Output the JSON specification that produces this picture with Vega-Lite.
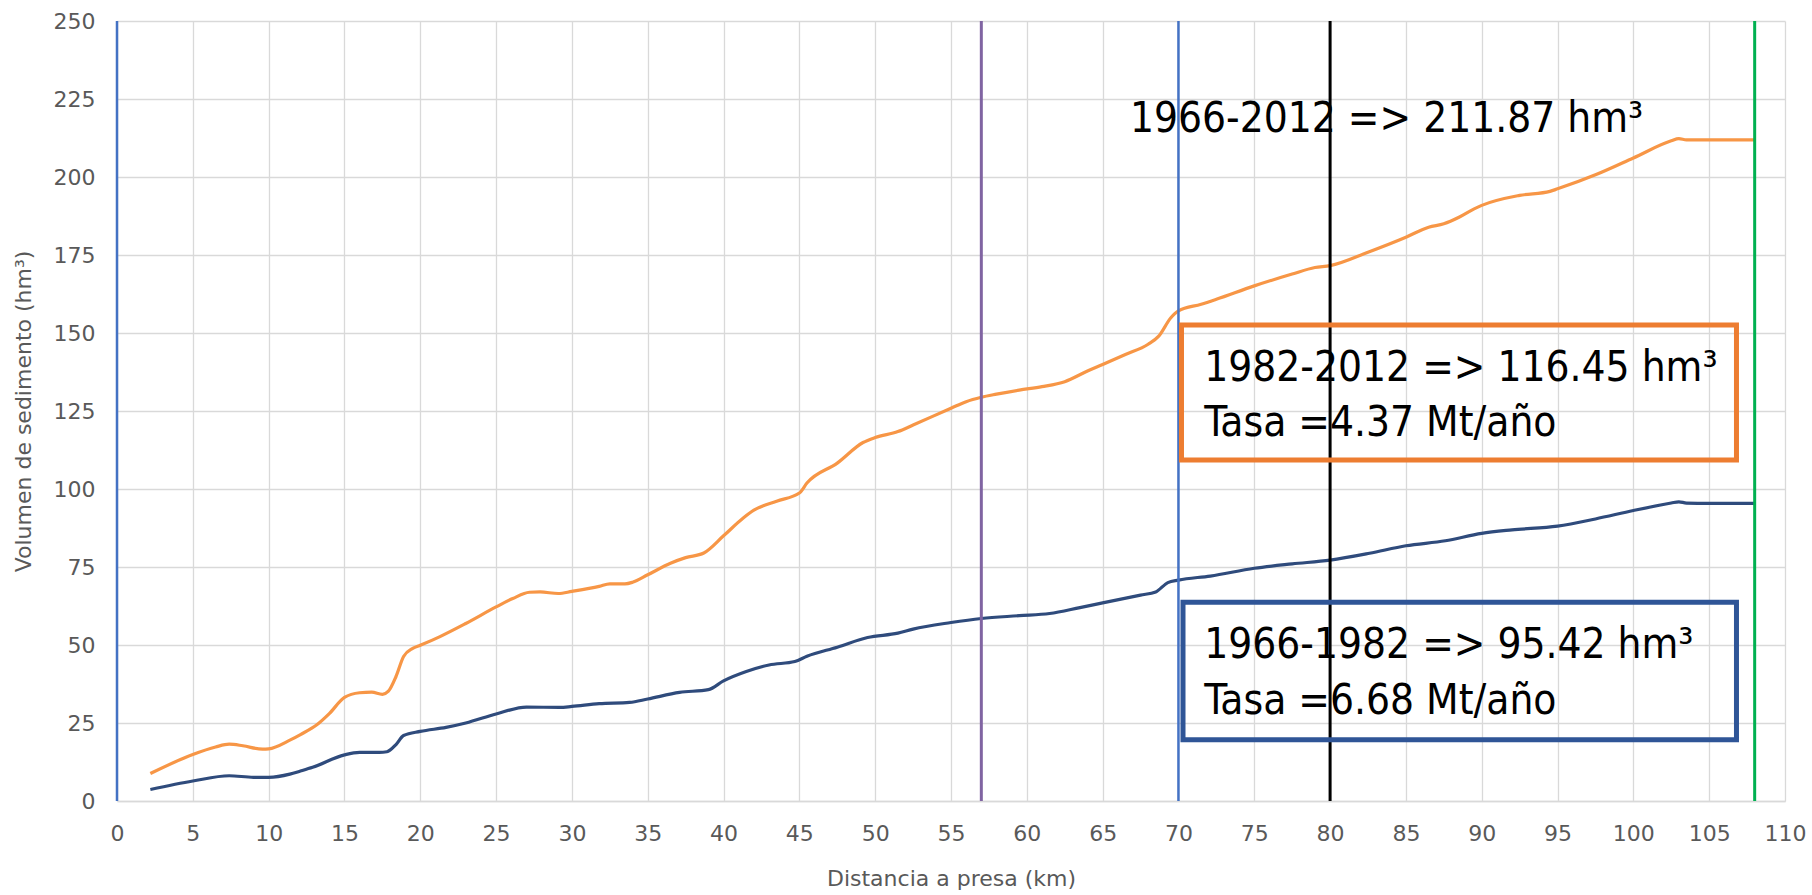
{
  "$schema": "https://vega.github.io/schema/vega-lite/v6.json",
  "width": 1668,
  "height": 780,
  "autosize": {"type": "none"},
  "padding": {"left": 117, "top": 21, "right": 27, "bottom": 94},
  "background": "white",
  "config": {
    "view": {"stroke": null},
    "axis": {
      "labelFont": "DejaVu Sans",
      "titleFont": "DejaVu Sans",
      "labelColor": "#595959",
      "titleColor": "#595959",
      "labelFontSize": 22,
      "titleFontSize": 22,
      "titleFontWeight": "normal",
      "gridColor": "#d9d9d9",
      "gridWidth": 1.3,
      "ticks": false
    }
  },
  "datasets": {
    "series": [
      {"km": 2.2, "vol": 8.8, "periodo": "1966-2012"},
      {"km": 5, "vol": 14.9, "periodo": "1966-2012"},
      {"km": 6.5, "vol": 17.3, "periodo": "1966-2012"},
      {"km": 7.4, "vol": 18.2, "periodo": "1966-2012"},
      {"km": 8.3, "vol": 17.7, "periodo": "1966-2012"},
      {"km": 9.6, "vol": 16.6, "periodo": "1966-2012"},
      {"km": 10, "vol": 16.7, "periodo": "1966-2012"},
      {"km": 11.4, "vol": 19.5, "periodo": "1966-2012"},
      {"km": 12.1, "vol": 21.3, "periodo": "1966-2012"},
      {"km": 13.2, "vol": 24.5, "periodo": "1966-2012"},
      {"km": 14, "vol": 28, "periodo": "1966-2012"},
      {"km": 15, "vol": 33.2, "periodo": "1966-2012"},
      {"km": 16, "vol": 34.7, "periodo": "1966-2012"},
      {"km": 16.8, "vol": 34.9, "periodo": "1966-2012"},
      {"km": 17.5, "vol": 34.2, "periodo": "1966-2012"},
      {"km": 17.9, "vol": 35.2, "periodo": "1966-2012"},
      {"km": 18.4, "vol": 39.9, "periodo": "1966-2012"},
      {"km": 18.9, "vol": 46.3, "periodo": "1966-2012"},
      {"km": 19.5, "vol": 48.9, "periodo": "1966-2012"},
      {"km": 20, "vol": 49.9, "periodo": "1966-2012"},
      {"km": 21.3, "vol": 52.7, "periodo": "1966-2012"},
      {"km": 23, "vol": 56.9, "periodo": "1966-2012"},
      {"km": 25, "vol": 62.2, "periodo": "1966-2012"},
      {"km": 26.1, "vol": 64.9, "periodo": "1966-2012"},
      {"km": 27.2, "vol": 66.9, "periodo": "1966-2012"},
      {"km": 27.9, "vol": 67, "periodo": "1966-2012"},
      {"km": 29.1, "vol": 66.5, "periodo": "1966-2012"},
      {"km": 30, "vol": 67.2, "periodo": "1966-2012"},
      {"km": 31.8, "vol": 68.8, "periodo": "1966-2012"},
      {"km": 32.5, "vol": 69.6, "periodo": "1966-2012"},
      {"km": 33.5, "vol": 69.6, "periodo": "1966-2012"},
      {"km": 34, "vol": 70.1, "periodo": "1966-2012"},
      {"km": 35, "vol": 72.5, "periodo": "1966-2012"},
      {"km": 36.5, "vol": 76.2, "periodo": "1966-2012"},
      {"km": 37.5, "vol": 78, "periodo": "1966-2012"},
      {"km": 38.7, "vol": 79.5, "periodo": "1966-2012"},
      {"km": 40, "vol": 85, "periodo": "1966-2012"},
      {"km": 41.3, "vol": 90.7, "periodo": "1966-2012"},
      {"km": 42, "vol": 93.2, "periodo": "1966-2012"},
      {"km": 43.5, "vol": 96.1, "periodo": "1966-2012"},
      {"km": 45, "vol": 98.7, "periodo": "1966-2012"},
      {"km": 45.5, "vol": 101.9, "periodo": "1966-2012"},
      {"km": 47.5, "vol": 108.3, "periodo": "1966-2012"},
      {"km": 49.2, "vol": 114.9, "periodo": "1966-2012"},
      {"km": 50, "vol": 116.5, "periodo": "1966-2012"},
      {"km": 51.5, "vol": 118.4, "periodo": "1966-2012"},
      {"km": 52.5, "vol": 120.5, "periodo": "1966-2012"},
      {"km": 55, "vol": 125.9, "periodo": "1966-2012"},
      {"km": 56, "vol": 128, "periodo": "1966-2012"},
      {"km": 57, "vol": 129.4, "periodo": "1966-2012"},
      {"km": 58, "vol": 130.4, "periodo": "1966-2012"},
      {"km": 59.5, "vol": 131.7, "periodo": "1966-2012"},
      {"km": 61, "vol": 132.8, "periodo": "1966-2012"},
      {"km": 62.5, "vol": 134.4, "periodo": "1966-2012"},
      {"km": 64, "vol": 137.8, "periodo": "1966-2012"},
      {"km": 65, "vol": 139.9, "periodo": "1966-2012"},
      {"km": 66.5, "vol": 143.1, "periodo": "1966-2012"},
      {"km": 68, "vol": 146.4, "periodo": "1966-2012"},
      {"km": 68.7, "vol": 149, "periodo": "1966-2012"},
      {"km": 69.5, "vol": 154.9, "periodo": "1966-2012"},
      {"km": 70, "vol": 157.1, "periodo": "1966-2012"},
      {"km": 71.5, "vol": 159.2, "periodo": "1966-2012"},
      {"km": 72.5, "vol": 160.8, "periodo": "1966-2012"},
      {"km": 75, "vol": 165.1, "periodo": "1966-2012"},
      {"km": 77.5, "vol": 168.9, "periodo": "1966-2012"},
      {"km": 79, "vol": 171, "periodo": "1966-2012"},
      {"km": 80, "vol": 171.6, "periodo": "1966-2012"},
      {"km": 82.5, "vol": 175.9, "periodo": "1966-2012"},
      {"km": 85, "vol": 180.7, "periodo": "1966-2012"},
      {"km": 86.5, "vol": 183.9, "periodo": "1966-2012"},
      {"km": 87.5, "vol": 185, "periodo": "1966-2012"},
      {"km": 88.5, "vol": 187.1, "periodo": "1966-2012"},
      {"km": 89.5, "vol": 189.8, "periodo": "1966-2012"},
      {"km": 90, "vol": 190.9, "periodo": "1966-2012"},
      {"km": 92.5, "vol": 194.1, "periodo": "1966-2012"},
      {"km": 94.5, "vol": 195.4, "periodo": "1966-2012"},
      {"km": 95, "vol": 196.2, "periodo": "1966-2012"},
      {"km": 97.5, "vol": 200.7, "periodo": "1966-2012"},
      {"km": 100, "vol": 206.1, "periodo": "1966-2012"},
      {"km": 102.5, "vol": 211.6, "periodo": "1966-2012"},
      {"km": 103, "vol": 212.3, "periodo": "1966-2012"},
      {"km": 103.5, "vol": 211.9, "periodo": "1966-2012"},
      {"km": 105, "vol": 211.87, "periodo": "1966-2012"},
      {"km": 108, "vol": 211.87, "periodo": "1966-2012"},
      {"km": 2.2, "vol": 3.7, "periodo": "1966-1982"},
      {"km": 5, "vol": 6.4, "periodo": "1966-1982"},
      {"km": 7.4, "vol": 8.1, "periodo": "1966-1982"},
      {"km": 9, "vol": 7.6, "periodo": "1966-1982"},
      {"km": 10, "vol": 7.6, "periodo": "1966-1982"},
      {"km": 11.4, "vol": 8.6, "periodo": "1966-1982"},
      {"km": 12.1, "vol": 9.6, "periodo": "1966-1982"},
      {"km": 12.9, "vol": 10.8, "periodo": "1966-1982"},
      {"km": 15, "vol": 14.8, "periodo": "1966-1982"},
      {"km": 16, "vol": 15.6, "periodo": "1966-1982"},
      {"km": 17.3, "vol": 15.6, "periodo": "1966-1982"},
      {"km": 17.8, "vol": 15.8, "periodo": "1966-1982"},
      {"km": 18.4, "vol": 18.1, "periodo": "1966-1982"},
      {"km": 18.9, "vol": 21, "periodo": "1966-1982"},
      {"km": 20, "vol": 22.3, "periodo": "1966-1982"},
      {"km": 21.7, "vol": 23.6, "periodo": "1966-1982"},
      {"km": 23, "vol": 25, "periodo": "1966-1982"},
      {"km": 25, "vol": 27.9, "periodo": "1966-1982"},
      {"km": 27, "vol": 30.1, "periodo": "1966-1982"},
      {"km": 29.2, "vol": 30, "periodo": "1966-1982"},
      {"km": 30, "vol": 30.3, "periodo": "1966-1982"},
      {"km": 31.8, "vol": 31.2, "periodo": "1966-1982"},
      {"km": 33.8, "vol": 31.6, "periodo": "1966-1982"},
      {"km": 35, "vol": 32.7, "periodo": "1966-1982"},
      {"km": 37.1, "vol": 34.8, "periodo": "1966-1982"},
      {"km": 39, "vol": 35.7, "periodo": "1966-1982"},
      {"km": 40, "vol": 38.5, "periodo": "1966-1982"},
      {"km": 41.5, "vol": 41.5, "periodo": "1966-1982"},
      {"km": 43, "vol": 43.6, "periodo": "1966-1982"},
      {"km": 44.7, "vol": 44.7, "periodo": "1966-1982"},
      {"km": 45.5, "vol": 46.4, "periodo": "1966-1982"},
      {"km": 47.5, "vol": 49.3, "periodo": "1966-1982"},
      {"km": 49.5, "vol": 52.4, "periodo": "1966-1982"},
      {"km": 51.5, "vol": 53.8, "periodo": "1966-1982"},
      {"km": 52.5, "vol": 55.1, "periodo": "1966-1982"},
      {"km": 55, "vol": 57.2, "periodo": "1966-1982"},
      {"km": 57, "vol": 58.5, "periodo": "1966-1982"},
      {"km": 59.5, "vol": 59.4, "periodo": "1966-1982"},
      {"km": 61.5, "vol": 60.1, "periodo": "1966-1982"},
      {"km": 63.5, "vol": 62, "periodo": "1966-1982"},
      {"km": 65, "vol": 63.5, "periodo": "1966-1982"},
      {"km": 67.5, "vol": 66, "periodo": "1966-1982"},
      {"km": 68.5, "vol": 67, "periodo": "1966-1982"},
      {"km": 69.3, "vol": 70, "periodo": "1966-1982"},
      {"km": 70, "vol": 70.8, "periodo": "1966-1982"},
      {"km": 72.1, "vol": 72.1, "periodo": "1966-1982"},
      {"km": 75, "vol": 74.6, "periodo": "1966-1982"},
      {"km": 77.5, "vol": 76, "periodo": "1966-1982"},
      {"km": 80, "vol": 77.2, "periodo": "1966-1982"},
      {"km": 82.6, "vol": 79.4, "periodo": "1966-1982"},
      {"km": 85, "vol": 81.8, "periodo": "1966-1982"},
      {"km": 87.6, "vol": 83.4, "periodo": "1966-1982"},
      {"km": 90, "vol": 85.8, "periodo": "1966-1982"},
      {"km": 92, "vol": 86.9, "periodo": "1966-1982"},
      {"km": 95, "vol": 88.1, "periodo": "1966-1982"},
      {"km": 97.5, "vol": 90.4, "periodo": "1966-1982"},
      {"km": 100, "vol": 93.1, "periodo": "1966-1982"},
      {"km": 102.5, "vol": 95.5, "periodo": "1966-1982"},
      {"km": 103, "vol": 95.9, "periodo": "1966-1982"},
      {"km": 103.5, "vol": 95.5, "periodo": "1966-1982"},
      {"km": 105, "vol": 95.42, "periodo": "1966-1982"},
      {"km": 108, "vol": 95.42, "periodo": "1966-1982"}
    ]
  },
  "encoding": {
    "x": {
      "type": "quantitative",
      "scale": {"domain": [0, 110], "nice": false, "zero": false},
      "axis": {
        "title": "Distancia a presa (km)",
        "values": [0, 5, 10, 15, 20, 25, 30, 35, 40, 45, 50, 55, 60, 65, 70, 75, 80, 85, 90, 95, 100, 105, 110],
        "domainColor": "#d9d9d9",
        "domainWidth": 1.3,
        "labelPadding": 22,
        "titlePadding": 24,
        "labelFlush": false
      }
    },
    "y": {
      "type": "quantitative",
      "scale": {"domain": [0, 250], "nice": false},
      "axis": {
        "title": "Volumen de sedimento (hm³)",
        "values": [0, 25, 50, 75, 100, 125, 150, 175, 200, 225, 250],
        "domain": false,
        "labelPadding": 22,
        "titlePadding": 18
      }
    }
  },
  "layer": [
    {
      "data": {"name": "series"},
      "mark": {"type": "line", "interpolate": "monotone", "strokeWidth": 3.2},
      "encoding": {
        "x": {"field": "km", "type": "quantitative"},
        "y": {"field": "vol", "type": "quantitative"},
        "color": {
          "field": "periodo",
          "type": "nominal",
          "scale": {"domain": ["1966-2012", "1966-1982"], "range": ["#F79646", "#2F4B7C"]},
          "legend": null
        }
      }
    },
    {
      "data": {"values": [{"km": 0}]},
      "mark": {"type": "rule", "color": "#4472C4", "strokeWidth": 2.5},
      "encoding": {"x": {"field": "km", "type": "quantitative"}}
    },
    {
      "data": {"values": [{"km": 57}]},
      "mark": {"type": "rule", "color": "#8064A2", "strokeWidth": 3},
      "encoding": {"x": {"field": "km", "type": "quantitative"}}
    },
    {
      "data": {"values": [{"km": 70}]},
      "mark": {"type": "rule", "color": "#4472C4", "strokeWidth": 2.5},
      "encoding": {"x": {"field": "km", "type": "quantitative"}}
    },
    {
      "data": {"values": [{"km": 80}]},
      "mark": {"type": "rule", "color": "#000000", "strokeWidth": 3},
      "encoding": {"x": {"field": "km", "type": "quantitative"}}
    },
    {
      "data": {"values": [{"km": 108}]},
      "mark": {"type": "rule", "color": "#00B050", "strokeWidth": 3},
      "encoding": {"x": {"field": "km", "type": "quantitative"}}
    },
    {
      "data": {"values": [{"x1": 70.2, "x2": 106.8, "y1": 109.3, "y2": 152.6}]},
      "mark": {"type": "rect", "fill": "white", "fillOpacity": 0, "stroke": "#ED7D31", "strokeWidth": 5},
      "encoding": {
        "x": {"field": "x1", "type": "quantitative"},
        "x2": {"field": "x2"},
        "y": {"field": "y1", "type": "quantitative"},
        "y2": {"field": "y2"}
      }
    },
    {
      "data": {"values": [{"x1": 70.3, "x2": 106.8, "y1": 19.6, "y2": 63.7}]},
      "mark": {"type": "rect", "fill": "white", "fillOpacity": 0, "stroke": "#2F5597", "strokeWidth": 5},
      "encoding": {
        "x": {"field": "x1", "type": "quantitative"},
        "x2": {"field": "x2"},
        "y": {"field": "y1", "type": "quantitative"},
        "y2": {"field": "y2"}
      }
    },
    {
      "data": {"values": [
        {"km": 66.8, "vol": 218.5, "texto": "1966-2012 => 211.87 hm³"},
        {"km": 71.7, "vol": 138.9, "texto": "1982-2012 => 116.45 hm³"},
        {"km": 71.7, "vol": 121.1, "texto": "Tasa =4.37 Mt/año"},
        {"km": 71.7, "vol": 50, "texto": "1966-1982 => 95.42 hm³"},
        {"km": 71.7, "vol": 32.2, "texto": "Tasa =6.68 Mt/año"}
      ]},
      "mark": {"type": "text", "align": "left", "baseline": "middle", "font": "DejaVu Sans Condensed, Liberation Sans Narrow, sans-serif", "fontSize": 42, "color": "black"},
      "encoding": {
        "x": {"field": "km", "type": "quantitative"},
        "y": {"field": "vol", "type": "quantitative"},
        "text": {"field": "texto"}
      }
    }
  ]
}
